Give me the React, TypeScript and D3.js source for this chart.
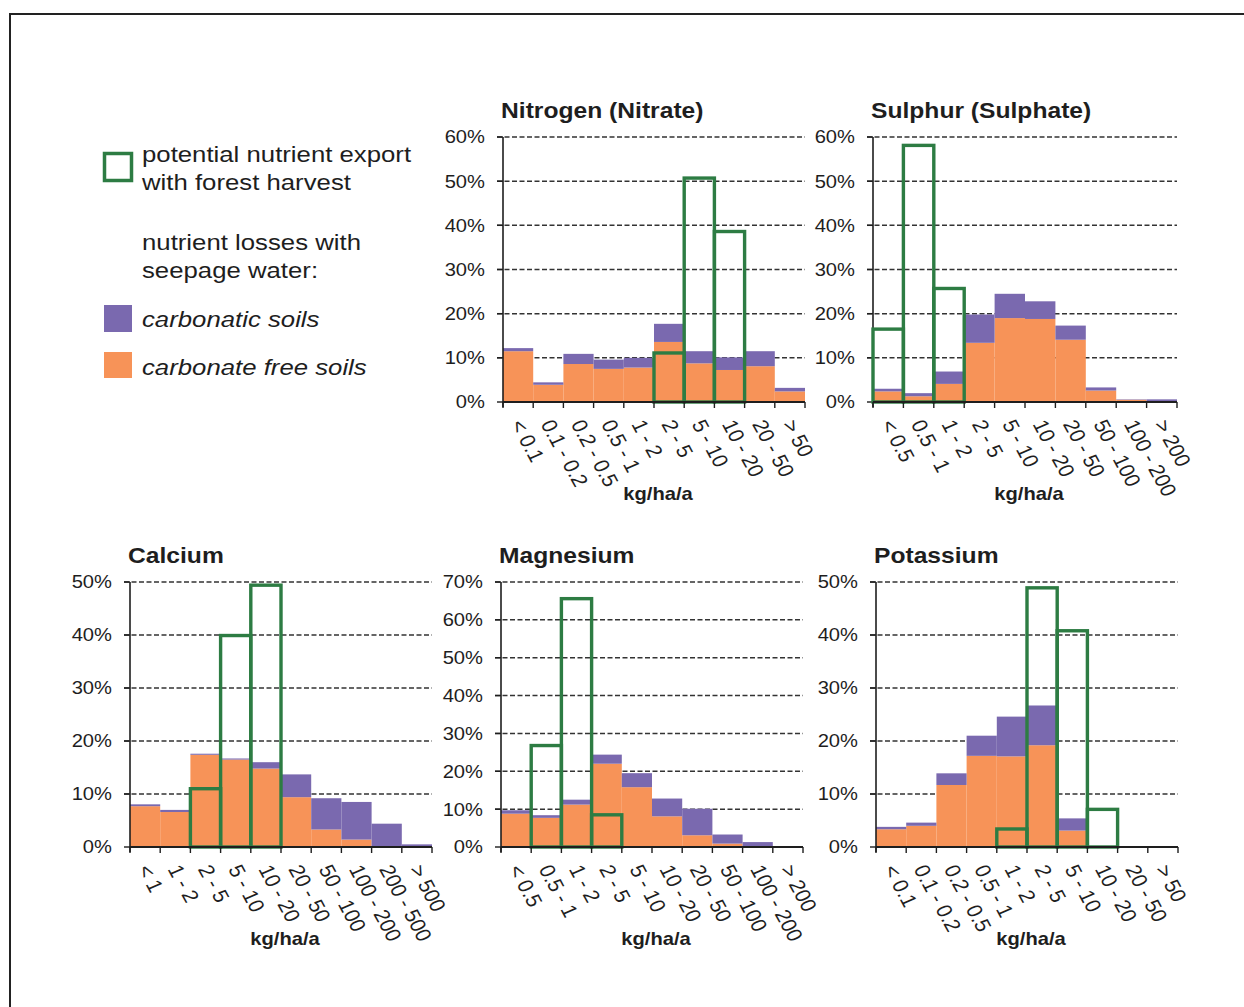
import React from "react";
import * as d3 from "d3";

// ---- categories (kg/ha/a classes) ----
const catsNitrogen = ["< 0.1", "0.1 - 0.2", "0.2 - 0.5", "0.5 - 1", "1 - 2", "2 - 5", "5 - 10", "10 - 20", "20 - 50", "> 50"];
const catsSulphur = ["< 0.5", "0.5 - 1", "1 - 2", "2 - 5", "5 - 10", "10 - 20", "20 - 50", "50 - 100", "100 - 200", "> 200"];
const catsCalcium = ["< 1", "1 - 2", "2 - 5", "5 - 10", "10 - 20", "20 - 50", "50 - 100", "100 - 200", "200 - 500", "> 500"];
const catsMagnesium = ["< 0.5", "0.5 - 1", "1 - 2", "2 - 5", "5 - 10", "10 - 20", "20 - 50", "50 - 100", "100 - 200", "> 200"];
const catsPotassium = ["< 0.1", "0.1 - 0.2", "0.2 - 0.5", "0.5 - 1", "1 - 2", "2 - 5", "5 - 10", "10 - 20", "20 - 50", "> 50"];

// ---- share of sites (%) : carbonate free soils / carbonatic soils (stacked) ----
const nitrogenFree = [11.5, 3.9, 8.6, 7.5, 7.8, 13.6, 8.75, 7.25, 8.1, 2.4];
const nitrogenCarb = [0.7, 0.55, 2.3, 2.1, 2.2, 4.1, 2.75, 2.85, 3.4, 0.8];
const sulphurFree = [2.4, 1.3, 4.1, 13.4, 19.0, 18.8, 14.1, 2.6, 0.5, 0.1];
const sulphurCarb = [0.6, 0.7, 2.8, 6.4, 5.5, 4.0, 3.2, 0.7, 0.1, 0.5];
const calciumFree = [7.7, 6.6, 17.4, 16.5, 14.8, 9.4, 3.3, 1.4, 0, 0];
const calciumCarb = [0.35, 0.4, 0.2, 0.2, 1.2, 4.3, 5.9, 7.1, 4.4, 0.5];
const magnesiumFree = [8.8, 7.7, 11.2, 22.0, 15.8, 8.1, 3.1, 0.9, 0.2, 0];
const magnesiumCarb = [0.9, 0.7, 1.3, 2.4, 3.7, 4.7, 7.0, 2.4, 1.1, 0];
const potassiumFree = [3.35, 4.0, 11.7, 17.2, 17.1, 19.2, 3.1, 0, 0, 0];
const potassiumCarb = [0.45, 0.6, 2.2, 3.8, 7.5, 7.5, 2.3, 0, 0, 0];

// ---- potential nutrient export with forest harvest (%) ----
const nitrogenExport = [0, 0, 0, 0, 0, 11.1, 50.7, 38.6, 0, 0];
const sulphurExport = [16.5, 58.1, 25.7, 0, 0, 0, 0, 0, 0, 0];
const calciumExport = [0, 0, 11.0, 39.9, 49.4, 0, 0, 0, 0, 0];
const magnesiumExport = [0, 26.8, 65.6, 8.5, 0, 0, 0, 0, 0, 0];
const potassiumExport = [0, 0, 0, 0, 3.4, 48.9, 40.8, 7.1, 0, 0];

const FONT = "'Liberation Sans', Arial, Helvetica, sans-serif";
const SX = 1.12; // horizontal text stretch
const ORANGE = "#F79358";
const PURPLE = "#7A69AF";
const GREEN = "#2D7C43";
const INK = "#1e1e1e";
const GRID = "#333";

type PanelProps = {
  title: string;
  cats: string[];
  free: number[];
  carb: number[];
  exp: number[];
  yMax: number;
  x0: number;
  x1: number;
  y0: number;
  yTop: number;
};

function Panel({ title, cats, free, carb, exp, yMax, x0, x1, y0, yTop }: PanelProps) {
  const x = d3.scaleBand<string>().domain(cats).range([x0, x1]).padding(0);
  const y = d3.scaleLinear().domain([0, yMax]).range([y0, yTop]);
  const rows = cats.map((c, i) => ({ cat: c, free: free[i], carb: carb[i] }));
  const series = d3.stack<any>().keys(["free", "carb"])(rows);
  const ticks = d3.range(0, yMax + 1, 10);
  const bounds = d3.range(cats.length + 1).map((i) => x0 + i * x.bandwidth());

  return (
    <g>
      {/* gridlines */}
      {ticks.filter((t) => t > 0).map((t) => (
        <line key={"g" + t} x1={x0 - 6} x2={x1} y1={y(t)} y2={y(t)} stroke={GRID} strokeWidth={1.5} strokeDasharray="5,2.5" />
      ))}
      {/* stacked bars */}
      {series.map((s, si) => (
        <g key={s.key} fill={si === 0 ? ORANGE : PURPLE}>
          {s.map((d: any, i: number) =>
            d[1] - d[0] > 0 ? (
              <rect key={i} x={x(cats[i])} width={x.bandwidth()} y={y(d[1])} height={y(d[0]) - y(d[1])} />
            ) : null
          )}
        </g>
      ))}
      {/* y axis */}
      <line x1={x0} x2={x0} y1={yTop} y2={y0 + 5} stroke={INK} strokeWidth={1.6} />
      {ticks.map((t) => (
        <line key={"yt" + t} x1={x0 - 6} x2={x0} y1={y(t)} y2={y(t)} stroke={INK} strokeWidth={1.4} />
      ))}
      {ticks.map((t) => (
        <text
          key={"yl" + t}
          transform={`translate(${x0 - 18},${y(t)}) scale(${SX},1)`}
          textAnchor="end"
          dy="0.36em"
          fontSize={18}
          fontFamily={FONT}
          fill={INK}
        >
          {t + "%"}
        </text>
      ))}
      {/* export outlines */}
      {exp.map((v, i) =>
        v > 0 ? (
          <rect
            key={"e" + i}
            x={x(cats[i])}
            width={x.bandwidth()}
            y={y(v)}
            height={y0 - y(v)}
            fill="none"
            stroke={GREEN}
            strokeWidth={3.4}
          />
        ) : null
      )}
      {/* x axis */}
      <line x1={x0} x2={x1} y1={y0} y2={y0} stroke={INK} strokeWidth={1.8} />
      {bounds.map((b, i) => (
        <line key={"xt" + i} x1={b} x2={b} y1={y0} y2={y0 + 6} stroke={INK} strokeWidth={1.4} />
      ))}
      {cats.map((c) => (
        <text
          key={"xl" + c}
          transform={`translate(${(x(c) as number) + x.bandwidth() / 2 - 8},${y0 + 22}) scale(${SX},1) rotate(64)`}
          fontSize={19.5}
          fontFamily={FONT}
          fill={INK}
        >
          {c}
        </text>
      ))}
      <text
        transform={`translate(${(x0 + x1) / 2 + 4},${y0 + 98}) scale(${SX},1)`}
        textAnchor="middle"
        fontSize={18}
        fontWeight="bold"
        fontFamily={FONT}
        fill={INK}
      >
        kg/ha/a
      </text>
      <text
        transform={`translate(${x0 - 2},${yTop - 19}) scale(${SX},1)`}
        fontSize={22}
        fontWeight="bold"
        fontFamily={FONT}
        fill={INK}
      >
        {title}
      </text>
    </g>
  );
}

function LegendText({ x, y, children, italic }: { x: number; y: number; children: React.ReactNode; italic?: boolean }) {
  return (
    <text
      transform={`translate(${x},${y}) scale(${SX},1)`}
      fontSize={23}
      fontStyle={italic ? "italic" : "normal"}
      fontFamily={FONT}
      fill={INK}
    >
      {children}
    </text>
  );
}

export default function App() {
  return (
    <svg
      width={1244}
      height={1007}
      viewBox="0 0 1244 1007"
      style={{ position: "absolute", left: 0, top: 0, background: "#fff" }}
    >
      <rect width={1244} height={1007} fill="#fff" />
      <path d="M10,1007 V14 H1244" fill="none" stroke="#222" strokeWidth={2} />

      {/* legend */}
      <rect x={104.5} y={153.5} width={27} height={27} fill="none" stroke={GREEN} strokeWidth={3.5} />
      <LegendText x={142} y={162}>potential nutrient export</LegendText>
      <LegendText x={142} y={190}>with forest harvest</LegendText>
      <LegendText x={142} y={250}>nutrient losses with</LegendText>
      <LegendText x={142} y={278}>seepage water:</LegendText>
      <rect x={104} y={305} width={28} height={27} fill={PURPLE} />
      <LegendText x={142} y={327} italic>carbonatic soils</LegendText>
      <rect x={104} y={352} width={28} height={26} fill={ORANGE} />
      <LegendText x={142} y={375} italic>carbonate free soils</LegendText>

      <Panel title="Nitrogen (Nitrate)" cats={catsNitrogen} free={nitrogenFree} carb={nitrogenCarb} exp={nitrogenExport}
        yMax={60} x0={503} x1={805} y0={402} yTop={137} />
      <Panel title="Sulphur (Sulphate)" cats={catsSulphur} free={sulphurFree} carb={sulphurCarb} exp={sulphurExport}
        yMax={60} x0={873} x1={1177} y0={402} yTop={137} />
      <Panel title="Calcium" cats={catsCalcium} free={calciumFree} carb={calciumCarb} exp={calciumExport}
        yMax={50} x0={130} x1={432} y0={847} yTop={582} />
      <Panel title="Magnesium" cats={catsMagnesium} free={magnesiumFree} carb={magnesiumCarb} exp={magnesiumExport}
        yMax={70} x0={501} x1={803} y0={847} yTop={582} />
      <Panel title="Potassium" cats={catsPotassium} free={potassiumFree} carb={potassiumCarb} exp={potassiumExport}
        yMax={50} x0={876} x1={1178} y0={847} yTop={582} />
    </svg>
  );
}
